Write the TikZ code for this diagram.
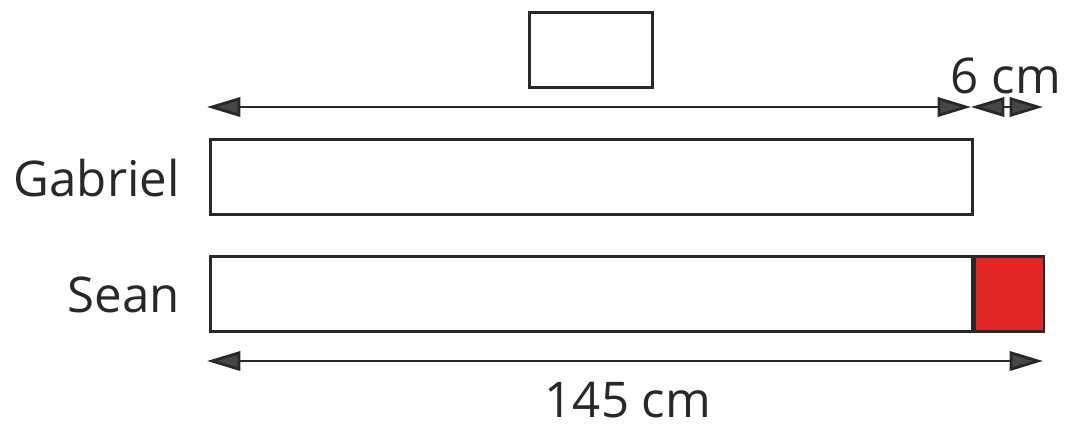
\documentclass[tikz,border=0pt]{standalone}
\usepackage{fontspec}
\setmainfont{Open Sans}
\usetikzlibrary{positioning, arrows.meta}
\definecolor{BarRed}{RGB}{226,38,40}
\definecolor{LineGray}{RGB}{40,40,40}
\definecolor{HeadGray}{RGB}{70,70,70}
\tikzset{
  bar/.style={draw=LineGray, line width=1.6pt, inner sep=0pt, anchor=north west, minimum height=1.5cm},
  measure/.style={draw=LineGray, line width=1.6pt, {Triangle[length=19pt,width=11pt,fill=HeadGray]}-{Triangle[length=19pt,width=11pt,fill=HeadGray]}},
  label/.style={font=\fontsize{28}{30}\selectfont, text=LineGray, inner sep=0pt}
}

\begin{document}
\begin{tikzpicture}[x=0.02cm, y=-0.02cm]
          \useasboundingbox (0,0) rectangle (1081,441);
          % blank box at the top
          \node[bar, minimum width=2.46cm] (blank) at (528,11) {};
          % the two bars
          \node[bar, minimum width=15.24cm] (gabriel) at (209,138) {};
          \node[bar, minimum width=15.24cm] (sean) at (209,255) {};
          \node[bar, fill=BarRed, minimum width=1.38cm] (extra) at (sean.north east) {};
          \node[label, anchor=east] (gname) at (180,178) {Gabriel};
          \node[label, anchor=east] (sname) at (180,295) {Sean};
          % measurements
          \coordinate (topL) at (207,107);
          \coordinate (topR) at (971,107);
          \coordinate (sixR) at (1043,107);
          \draw[measure] (topL) -- (topR);
          \draw[measure] (topR) -- (sixR);
          \node[label] (six) at (1006,76) {6 cm};
          \coordinate (botL) at (207,361);
          \coordinate (botR) at (1043,361);
          \draw[measure] (botL) -- (botR);
          \node[label] (total) at (628,400) {145 cm};
        \end{tikzpicture}
\end{document}
